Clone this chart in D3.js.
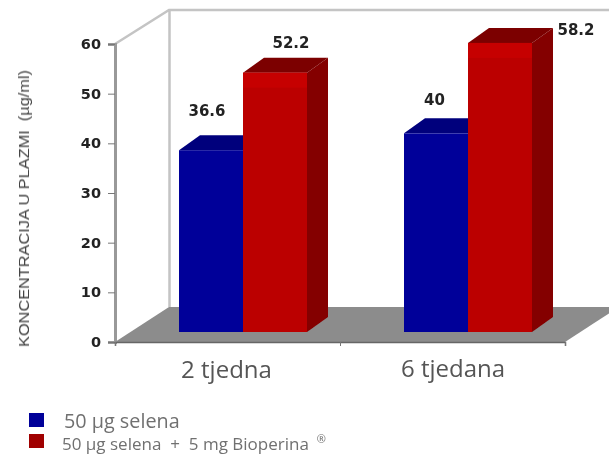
<!DOCTYPE html>
<html>
<head>
<meta charset="utf-8">
<script src="https://cdn.jsdelivr.net/npm/d3@7"></script>
<style>
body { margin: 0; background: #fff; }
svg { display: block; }
</style>
</head>
<body>
<svg width="609" height="454"></svg>
<script>
var categories = ['2 tjedna', '6 tjedana'];
var seriesNames = ['50 µg selena', '50 µg selena  +  5 mg Bioperina'];
var selena = [36.6, 40];
var bioperin = [52.2, 58.2];
var valueLabels = ['36.6', '52.2', '40', '58.2'];
var yTicks = [0, 10, 20, 30, 40, 50, 60];

var svg = d3.select('svg');

// soften everything a bit, the reference is a blurry jpeg
var blur = svg.append('defs').append('filter').attr('id', 'soft');
blur.append('feGaussianBlur').attr('stdDeviation', 0.6);

var g = svg.append('g').attr('filter', 'url(#soft)');

var y = d3.scaleLinear().domain([0, 60]).range([342, 44]);
var floorY = 332; // bars stand on the floor, a bit behind the axis
var barH = d3.scaleLinear().domain([0, 60]).range([0, 298]);

var x0 = d3.scaleBand().domain(categories).range([179, 532]).paddingInner(97 / 225);
var x1 = d3.scaleBand().domain([0, 1]).range([0, x0.bandwidth()]);
var xAxisScale = d3.scaleLinear().domain([0, 2]).range([115, 565]);

var wallDx = 54, wallDy = 35;
var depthDx = 21, depthDy = 15;

// back wall outline
g.append('path')
    .attr('d', 'M115,44 L169,10 L609,10 M169.5,10 L169.5,307')
    .attr('fill', 'none').attr('stroke', '#c4c4c4').attr('stroke-width', 2.5);

// floor
g.append('polygon')
    .attr('points', [[115, 342], [115 + wallDx, 342 - wallDy], [619, 342 - wallDy], [565, 342]].join(' '))
    .attr('fill', '#8c8c8c');

var bars = [];
categories.forEach(function(c, i) {
    bars.push({cat: c, s: 0, v: selena[i], front: '#000099', top: '#00007c', side: '#00006a'});
    bars.push({cat: c, s: 1, v: bioperin[i], front: '#bb0000', top: '#7c0000', side: '#840000'});
});

var bar = g.selectAll('.bar').data(bars).enter().append('g').attr('class', 'bar');

bar.append('polygon').attr('fill', function(d) { return d.side; })
    .attr('points', function(d) {
        var r = x0(d.cat) + x1(d.s) + x1.bandwidth(), t = floorY - barH(d.v);
        return [[r, t], [r + depthDx, t - depthDy], [r + depthDx, floorY - depthDy], [r, floorY]].join(' ');
    });
bar.append('polygon').attr('fill', function(d) { return d.top; })
    .attr('points', function(d) {
        var l = x0(d.cat) + x1(d.s), r = l + x1.bandwidth(), t = floorY - barH(d.v);
        return [[l, t], [l + depthDx, t - depthDy], [r + depthDx, t - depthDy], [r, t]].join(' ');
    });
bar.append('rect')
    .attr('x', function(d) { return x0(d.cat) + x1(d.s); })
    .attr('y', function(d) { return floorY - barH(d.v); })
    .attr('width', x1.bandwidth())
    .attr('height', function(d) { return barH(d.v); })
    .attr('fill', function(d) { return d.front; });
// lighter strip at the top of the red fronts
bar.filter(function(d) { return d.s === 1; }).append('rect')
    .attr('x', function(d) { return x0(d.cat) + x1(d.s); })
    .attr('y', function(d) { return floorY - barH(d.v); })
    .attr('width', x1.bandwidth())
    .attr('height', 15)
    .attr('fill', '#c60000');

// value labels
var labelPos = [[207, 116], [291, 48], [434.5, 105], [576, 35]];
g.selectAll('.val').data(valueLabels).enter().append('text')
    .attr('class', 'val')
    .attr('x', function(d, i) { return labelPos[i][0]; })
    .attr('y', function(d, i) { return labelPos[i][1]; })
    .attr('text-anchor', 'middle')
    .style('font', 'bold 15px "DejaVu Sans"')
    .attr('fill', '#222')
    .text(function(d) { return d; });

// y axis
var yAxis = g.append('g')
    .attr('transform', 'translate(115,0)')
    .call(d3.axisLeft(y).tickValues(yTicks).tickSize(7).tickPadding(7));
yAxis.select('.domain').attr('stroke', '#999').attr('stroke-width', 3);
yAxis.selectAll('line').attr('stroke', '#777');
yAxis.selectAll('text')
    .style('font', 'bold 14.5px "DejaVu Sans"')
    .attr('fill', '#222');

// x axis
var xAxis = g.append('g')
    .attr('transform', 'translate(0,342)')
    .call(d3.axisBottom(xAxisScale).ticks(2).tickSize(4).tickFormat(''));
xAxis.select('.domain').attr('stroke', '#666').attr('stroke-width', 1.5);
xAxis.selectAll('line').attr('stroke', '#777');

var catPos = [[226.5, 378], [453, 377]];
g.selectAll('.cat').data(categories).enter().append('text')
    .attr('class', 'cat')
    .attr('x', function(d, i) { return catPos[i][0]; })
    .attr('y', function(d, i) { return catPos[i][1]; })
    .attr('text-anchor', 'middle')
    .style('font', '24px "Open Sans"')
    .attr('fill', '#555')
    .text(function(d) { return d; });

// y title
g.append('text')
    .attr('transform', 'translate(29,208.5) rotate(-90)')
    .attr('text-anchor', 'middle')
    .attr('textLength', 277)
    .attr('lengthAdjust', 'spacingAndGlyphs')
    .style('white-space', 'pre')
    .style('font', '15px "Liberation Sans"')
    .attr('fill', '#444')
    .text('KONCENTRACIJA U PLAZMI  (µg/ml)');

// legend
var legendColor = ['#000099', '#a00000'];
var legendRow = [{sq: 413, ty: 428, tx: 64, size: 19.8}, {sq: 434, ty: 450, tx: 62, size: 17}];
var leg = g.selectAll('.leg').data(seriesNames).enter().append('g').attr('class', 'leg');
leg.append('rect')
    .attr('x', 29)
    .attr('y', function(d, i) { return legendRow[i].sq; })
    .attr('width', 15).attr('height', 14)
    .attr('fill', function(d, i) { return legendColor[i]; });
var legText = leg.append('text')
    .attr('x', function(d, i) { return legendRow[i].tx; })
    .attr('y', function(d, i) { return legendRow[i].ty; })
    .style('white-space', 'pre')
    .style('font-family', '"Open Sans"')
    .style('font-size', function(d, i) { return legendRow[i].size + 'px'; })
    .attr('fill', '#707070')
    .text(function(d) { return d; });
d3.select(legText.nodes()[1]).append('tspan')
    .attr('dx', 8).attr('dy', -7)
    .style('font-size', '11px')
    .text('®');
</script>
</body>
</html>
